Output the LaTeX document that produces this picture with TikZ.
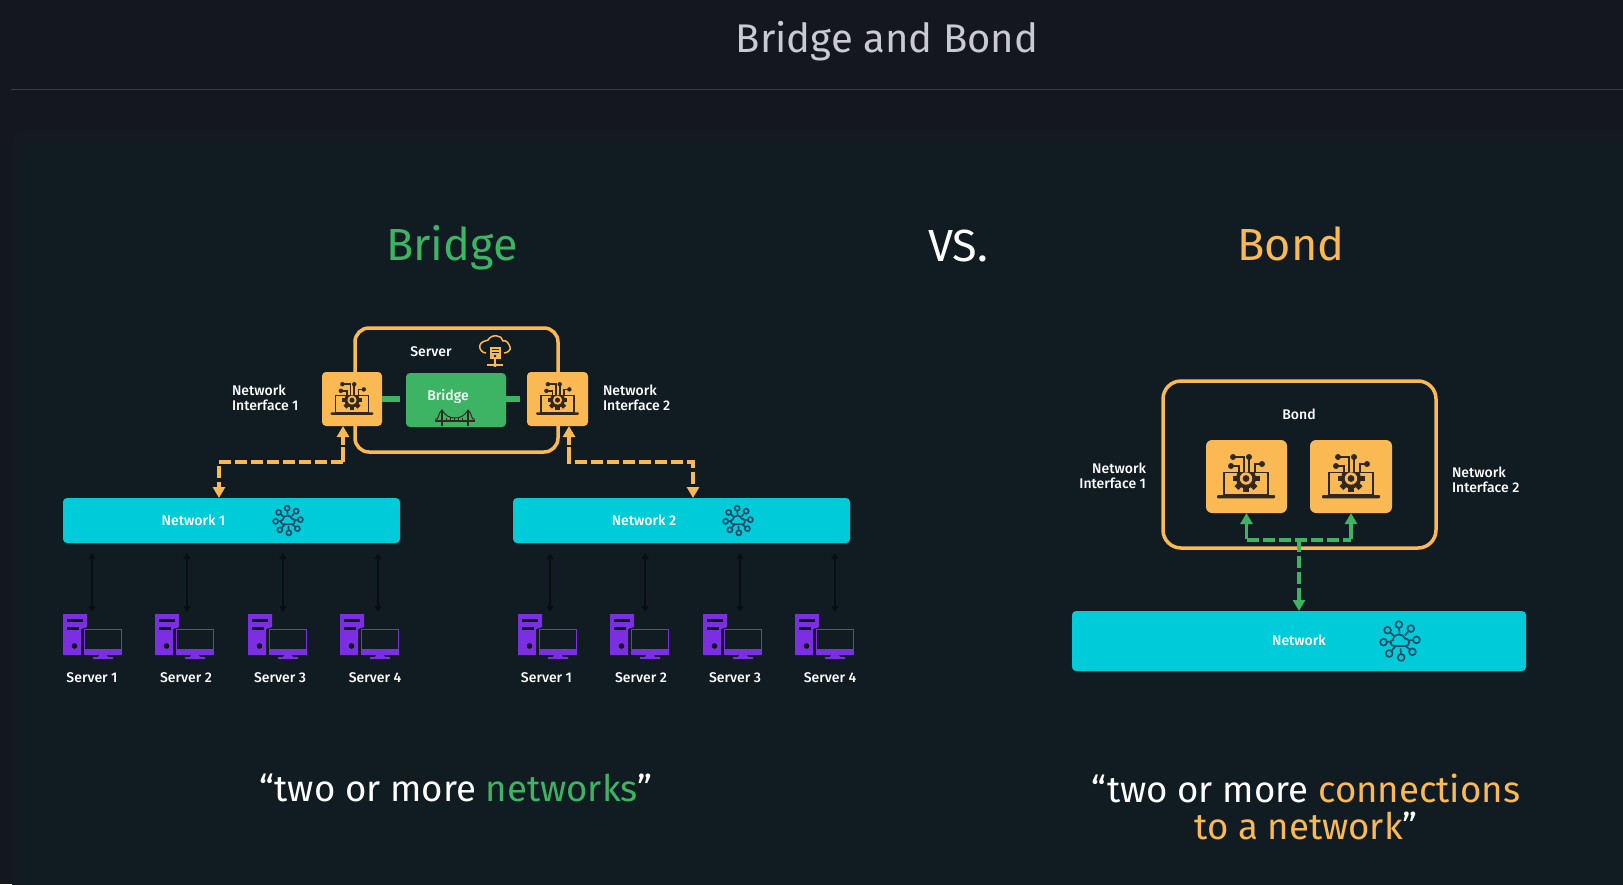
\documentclass[tikz,border=0pt]{standalone}
\usepackage{fontspec}
\setmainfont{Fira Sans}
\newfontfamily\medf{Fira Sans Medium}
\usetikzlibrary{arrows.meta,calc}
\definecolor{pagebg}{HTML}{14171E}
\definecolor{panelA}{HTML}{131A21}
\definecolor{panelB}{HTML}{111B22}
\definecolor{rulec}{HTML}{3A3D44}
\definecolor{titlec}{HTML}{C9CBD1}
\definecolor{greenc}{HTML}{3CB464}
\definecolor{orangec}{HTML}{FBB954}
\definecolor{cyanc}{HTML}{00CCD9}
\definecolor{purplec}{HTML}{7B2FE0}
\definecolor{icondark}{HTML}{33281F}
\definecolor{netdark}{HTML}{0E4A66}
\definecolor{blackarrow}{HTML}{0A0E13}
\tikzset{
  x=1pt,y=-1pt,
  small/.style={font=\medf\fontsize{14}{15}\selectfont,text=white,inner sep=0pt,outer sep=0pt,align=left},
  big/.style={font=\fontsize{36.6}{37}\selectfont,inner sep=0pt,outer sep=0pt},
  head/.style={font=\fontsize{45}{45}\selectfont,inner sep=0pt,outer sep=0pt},
  nibox/.style={fill=orangec,rounded corners=4pt,inner sep=0pt,outer sep=0pt},
  netbox/.style={fill=cyanc,rounded corners=4pt,inner sep=0pt,outer sep=0pt},
  framebox/.style={draw=orangec,line width=3.5pt,rounded corners=14pt,inner sep=0pt,outer sep=0pt},
  odash/.style={draw=orangec,line width=3.5pt,dash pattern=on 12pt off 4pt},
  gdash/.style={draw=greenc,line width=3.2pt,dash pattern=on 12pt off 4pt},
  ohead/.style={-{Triangle[length=11pt,width=12pt,fill=orangec]}},
  ghead/.style={-{Triangle[length=11pt,width=12pt,fill=greenc]}},
  tiny/.style={draw=blackarrow,line width=2pt,{Triangle[length=6pt,width=7pt]}-{Triangle[length=6pt,width=7pt]}},
  pics/laptop/.style={code={
    \begin{scope}[icondark]
    \draw[line width=1.5pt] (-22,-4.7) rectangle (22,18);
    \fill[rounded corners=1pt] (-29,18) rectangle (29,21.3);
    \begin{scope}
    \clip (-22,-4.7) rectangle (22,18);
    \foreach \a in {0,45,...,315}{\fill[rotate around={\a:(0,1.5)}] (-2.8,-12) rectangle (2.8,0);}
    \fill (0,1.5) circle (10);
    \fill[orangec] (0,1.5) circle (6.2);
    \fill (0,1.5) circle (3.4);
    \end{scope}
    \draw[line width=1.6pt] (3,-5) -- (3,-20);
    \fill (3,-20) circle (3);
    \draw[line width=1.6pt] (-2,-5) -- (-2,-20) -- (-13,-20);
    \fill (-13,-20) circle (3);
    \draw[line width=1.6pt] (-7,-5) -- (-7,-11) -- (-15,-11);
    \fill (-15,-11) circle (3);
    \draw[line width=1.6pt] (9,-5) -- (9,-13) -- (16,-13);
    \fill (16,-13) circle (3);
    \end{scope}
  }},
  pics/netcloud/.style={code={
    \foreach \a in {-4,41,...,311}{
      \draw[netdark,line width=1.6pt] (\a:7.5) -- (\a:13);
      \draw[netdark,line width=1.6pt] (\a:16.5) circle (3.4);
    }
    \draw[netdark,line width=1.6pt,fill=cyanc] (-6,5) to[out=180,in=180,looseness=1.6] (-7,-1) to[out=90,in=180] (-1,-6.5) to[out=0,in=110] (5,-2.5) to[out=10,in=0,looseness=1.6] (6,5) -- cycle;
  }},
  pics/pc/.style={code={
    \fill[purplec] (0,0) -- (24,0) -- (24,13) -- (18,15) -- (18,41) -- (0,41) -- cycle;
    \fill[blackarrow!60!panelB] (4,5) rectangle (20,8);
    \fill[blackarrow!60!panelB] (4,13) rectangle (16,15.5);
    \fill[blackarrow!60!panelB] (11.5,32) circle (2.8);
    \fill[purplec] (21,15) rectangle (59,41);
    \fill[panelB] (22.2,16.2) rectangle (57.8,35);
    \fill[purplec] (36,41) -- (44,41) -- (45,43) -- (50,43) -- (50,45) -- (30,45) -- (30,43) -- (35,43) -- cycle;
  }},
  pics/bridgeicon/.style={code={
    \begin{scope}[draw=icondark,line width=1pt]
    \draw[line width=1.8pt] (-13,-8) -- (-13,8);
    \draw[line width=1.8pt] (13,-8) -- (13,8);
    \draw[line width=1.4pt] (-20,3) -- (20,3);
    \draw (-20,1) to[out=-35,in=-150] (-13,-8) to[out=-60,in=180] (0,0) to[out=0,in=-120] (13,-8) to[out=-30,in=-145] (20,1);
    \foreach \u in {-9,-5,-1,3,7}{\draw[line width=.5pt] (\u,0) -- (\u,3);}
    \end{scope}
  }},
  pics/cloudsrv/.style={code={
    \draw[orangec,line width=1.5pt] (-9,1) to[out=180,in=250] (-15,-7) to[out=70,in=200] (-7,-12) to[out=60,in=170] (2,-16) to[out=10,in=110] (8,-11) to[out=30,in=110] (15,-5) to[out=-70,in=0] (9,1);
    \fill[orangec] (-5.5,-5.3) rectangle (5.5,7);
    \draw[panelB,line width=1pt] (-3.5,-2.5) -- (3.5,-2.5) (-3.5,0.5) -- (3.5,0.5);
    \fill[panelB] (0,4) circle (1.3);
    \draw[orangec,line width=1.2pt] (0,7) -- (0,13) (-8,13) -- (8,13);
    \fill[orangec] (0,13) circle (2);
  }}
}
\begin{document}
\begin{tikzpicture}
\useasboundingbox (0,0) rectangle (1623,884);
\fill[pagebg] (0,0) rectangle (1623,884);
\fill[panelA,rounded corners=14pt] (12,130) rectangle (1640,900);
\fill[panelB,rounded corners=14pt] (24,140) rectangle (1640,900);
\draw[rulec,line width=1pt] (11,89.5) -- (1623,89.5);
\node[font=\fontsize{40}{40}\selectfont,text=titlec,inner sep=0pt] (title) at (887,41) {Bridge and Bond};
\node[head,text=greenc] (hbridge) at (452,248) {Bridge};
\node[head,text=white] (hvs) at (958,246) {VS.};
\node[head,text=orangec] (hbond) at (1291,244) {Bond};

% ---- Bridge side
\node[framebox,minimum width=203pt,minimum height=124pt] (srv) at (456.5,390) {};
\node[small] (srvl) at (431,352) {Server};
\pic at (495,352) {cloudsrv};
\node[nibox,minimum width=60pt,minimum height=54pt] (ni1) at (352,399) {};
\node[nibox,minimum width=61pt,minimum height=54pt] (ni2) at (557.5,399) {};
\node[fill=greenc,rounded corners=4pt,inner sep=0pt,outer sep=0pt,minimum width=100pt,minimum height=54pt] (br) at (456,400) {};
\node[small] (brl) at (448,396.5) {Bridge};
\pic at (455,418) {bridgeicon};
\draw[greenc,line width=6pt] (ni1.east) -- ([xshift=-6pt]br.west |- ni1.east);
\draw[greenc,line width=6pt] (br.east |- ni2.west) -- ([xshift=-7pt]ni2.west);
\pic[scale=.74,line width=1pt] at (352,399) {laptop};
\pic[scale=.74,line width=1pt] at (557.5,399) {laptop};
\node[small,anchor=west] (nil1) at (232,398) {Network\\Interface 1};
\node[small,anchor=west] (nil2) at (603,398) {Network\\Interface 2};

\node[netbox,minimum width=337pt,minimum height=45pt] (net1) at (231.5,520.5) {};
\node[netbox,minimum width=337pt,minimum height=45pt] (net2) at (681.5,520.5) {};
\node[small] (net1l) at (193.5,520) {Network 1};
\node[small] (net2l) at (644,520) {Network 2};
\pic[scale=.75] at (288,520.5) {netcloud};
\pic[scale=.75] at (738,520.5) {netcloud};

\draw[odash,ohead] ([xshift=-9pt,yshift=-36pt]ni1.south) -| ([xshift=-12.5pt]net1.north);
\draw[orangec,line width=3.5pt,ohead] ([xshift=-9pt,yshift=-19pt]ni1.south) -- ([xshift=-9pt]ni1.south);
\draw[orangec,line width=3.5pt] ([xshift=-9pt,yshift=-21pt]ni1.south) -- ([xshift=-9pt,yshift=-36pt]ni1.south);
\draw[odash,ohead] ([xshift=17pt,yshift=-36pt]ni2.south) -| ([xshift=11.5pt]net2.north);
\draw[orangec,line width=3.5pt,ohead] ([xshift=11.5pt,yshift=-19pt]ni2.south) -- ([xshift=11.5pt]ni2.south);
\draw[orangec,line width=3.5pt] ([xshift=11.5pt,yshift=-21pt]ni2.south) -- ([xshift=11.5pt,yshift=-37.7pt]ni2.south);

% servers
\foreach \nm/\ix/\lx/\ax/\tx/\net in {a/63/92/92/Server 1/net1,b/155/186/187/Server 2/net1,c/248/280/283/Server 3/net1,d/340/375/378/Server 4/net1,e/518/546.5/550/Server 1/net2,f/610/641/645/Server 2/net2,g/703/735/740/Server 3/net2,h/795/830/835/Server 4/net2}{
  \pic at (\ix,614) {pc};
  \node[small] (s\nm) at (\lx,677.5) {\tx};
  \coordinate (p\nm) at (\ax,612);
  \draw[tiny] (p\nm) -- ([yshift=-10pt]\net.south -| p\nm);
}

% ---- Bond side
\node[framebox,minimum width=273pt,minimum height=167pt,rounded corners=18pt] (bondb) at (1299.5,464.5) {};
\node[small] (bondl) at (1299,414) {Bond};
\node[nibox,rounded corners=6pt,minimum width=81pt,minimum height=73pt] (b1) at (1246.5,476.5) {};
\node[nibox,rounded corners=6pt,minimum width=82pt,minimum height=73pt] (b2) at (1351,476.5) {};
\pic[line width=1.4pt] at (1246,477) {laptop};
\pic[line width=1.4pt] at (1351,477) {laptop};
\node[small,align=right,anchor=east] (bl1) at (1146,476) {Network\\Interface 1};
\node[small,anchor=west] (bl2) at (1452,480) {Network\\Interface 2};
\node[netbox,minimum width=454pt,minimum height=60pt] (bnet) at (1299,641) {};
\node[small] (bnetl) at (1299,640) {Network};
\pic at (1400,641) {netcloud};
\coordinate (bj) at (1299,540);
\draw[gdash] (bj -| b1) -- (bj -| b2);
\draw[greenc,line width=3.2pt,ghead] ([yshift=1.5pt]bj -| b1) -- (b1.south);
\draw[greenc,line width=3.2pt,ghead] ([yshift=1.5pt]bj -| b2) -- (b2.south);
\draw[gdash,ghead] (bj) -- (bnet.north);

% ---- Quotes
\node[big,text=white] (q1) at (456,788) {“two or more \textcolor{greenc}{networks}”};
\node[big,text=white] (q2) at (1306,788) {“two or more \textcolor{orangec}{connections}};
\node[big,text=orangec] (q3) at (1306,826) {to a network\textcolor{white}{”}};
\end{tikzpicture}
\end{document}
